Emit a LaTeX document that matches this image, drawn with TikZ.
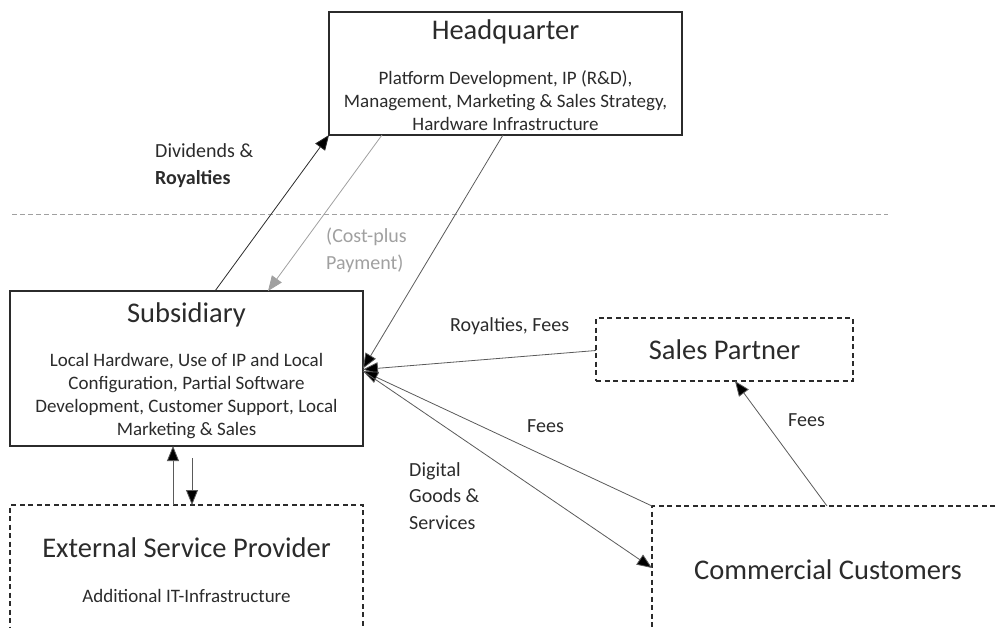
\documentclass[tikz,border=0pt]{standalone}
\usepackage{fontspec}
\setmainfont{Carlito}
\usetikzlibrary{arrows.meta,calc}
\definecolor{txt}{HTML}{2B2B2B}
\definecolor{ln}{HTML}{5A5A5A}
\definecolor{gr}{HTML}{A0A0A0}
\begin{document}
\begin{tikzpicture}[x=1pt,y=-1pt,
  box/.style={draw=txt,line width=1.3pt,outer sep=0pt,inner sep=0pt,anchor=north west},
  dbox/.style={box,line width=1.1pt,dash pattern=on 5pt off 3.5pt},
  title/.style={text=txt,font=\fontsize{28.5}{34}\selectfont,inner sep=0pt},
  body/.style={text=txt,font=\fontsize{19}{23}\selectfont,align=center,inner sep=0pt},
  lbl/.style={text=txt,font=\fontsize{20}{26.5}\selectfont,align=left,inner sep=0pt,anchor=west},
  conn/.style={draw=ln,line width=0.8pt,-{Triangle[length=15pt,width=12pt,fill=black]}}]
\useasboundingbox (0,0) rectangle (998,628);
\clip (0,0) rectangle (998,628);
% boxes
\node[box,minimum width=353pt,minimum height=123pt] (hq) at (329,12) {};
\node[box,minimum width=353pt,minimum height=155pt] (sub) at (10,291) {};
\node[dbox,minimum width=353pt,minimum height=150pt] (esp) at (10,505) {};
\node[dbox,minimum width=257pt,minimum height=63pt] (sp) at (596,318) {};
\node[dbox,minimum width=360pt,minimum height=150pt] (cc) at (652,506) {};
% texts
\node[title] (hqt) at (505.5,32) {Headquarter};
\node[body] (hqb) at (505.5,101) {Platform Development, IP (R\&D),\\Management, Marketing \& Sales Strategy,\\Hardware Infrastructure};
\node[title] (subt) at (186.5,315) {Subsidiary};
\node[body] (subb) at (186.5,396.5) {Local Hardware, Use of IP and Local\\Configuration, Partial Software\\Development, Customer Support, Local\\Marketing \& Sales};
\node[title] (espt) at (186.5,548) {External Service Provider};
\node[body] (espb) at (186.5,596) {Additional IT-Infrastructure};
\node[title] (spt) at (724.5,350) {Sales Partner};
\node[title] (cct) at (828,570) {Commercial Customers};
% separator
\coordinate (sepL) at (12,214);
\coordinate (sepR) at (888,214);
\draw[gr,line width=0.8pt,dash pattern=on 5pt off 3pt] (sepL) -- (sepR);
% connectors
\draw[conn,draw=txt] ($(sub.north west)+(205,0)$) -- (hq.south west);
\draw[conn,draw=gr,-{Triangle[length=15pt,width=12pt,fill=gr]},color=gr] ($(hq.south west)+(53,0)$) -- ($(sub.north west)+(258,0)$);
\draw[conn] ($(hq.south west)+(174,0)$) -- (sub.east);
\draw[conn] ($(sp.west)+(0,1)$) -- ($(sub.east)+(0,1)$);
\draw[conn] (cc.north west) -- ($(sub.east)+(0,2.5)$);
\draw[conn] ($(sub.east)+(0,2.5)$) -- ($(cc.north west)+(0,62)$);
\draw[conn] ($(cc.north west)+(175,0)$) -- ($(sp.south west)+(139,0)$);
\draw[conn] ($(esp.north west)+(163,0)$) -- ($(sub.south west)+(163,0)$);
\draw[conn] ($(sub.south west)+(182,12)$) coordinate (dstart) -- ($(esp.north west)+(182,0)$);
% labels
\node[lbl] (l1) at (155,165.5) {Dividends \&\\\textbf{Royalties}};
\node[lbl,text=gr] (l2) at (326,250.5) {(Cost-plus\\Payment)};
\node[lbl] (l3) at (450,326) {Royalties, Fees};
\node[lbl] (l4) at (527,426) {Fees};
\node[lbl] (l5) at (409,496) {Digital\\Goods \&\\Services};
\node[lbl] (l6) at (788,420) {Fees};
\end{tikzpicture}
\end{document}
